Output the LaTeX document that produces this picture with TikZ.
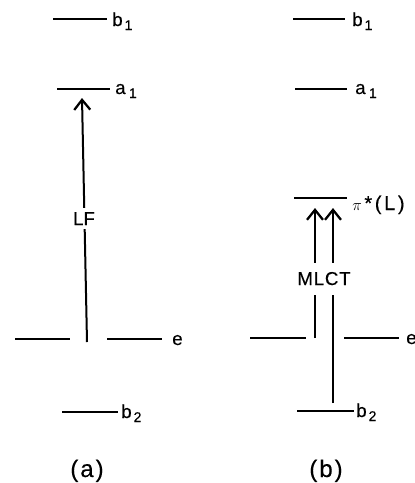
\documentclass[tikz,border=0pt]{standalone}
\usepackage{fontspec}
\setmainfont{Liberation Sans}[FakeBold=0.3]
\usetikzlibrary{arrows.meta}
\newcommand\lsub[1]{\kern1.5pt\raisebox{-3pt}{\fontsize{10.5}{12}\selectfont #1}}
\begin{document}
\begin{tikzpicture}[x=0.75pt,y=-0.75pt,
  level/.style={line width=1.7pt},
  trans/.style={line width=1.5pt,-{Straight Barb[length=7.5pt,width=12pt,line width=1.7pt]}},
  lbl/.style={anchor=base west,inner sep=0pt,font=\fontsize{14}{16}\selectfont},
  tlabel/.style={anchor=base,fill=white,inner xsep=2pt,font=\fontsize{14}{16}\selectfont},
  capt/.style={anchor=base,inner sep=0pt,font=\fontsize{18}{20}\selectfont}]
\useasboundingbox (0,0) rectangle (415,483);
% ---------- panel (a) ----------
\coordinate (aB1w) at (53,19);  \coordinate (aB1e) at (107,19);
\coordinate (aA1w) at (57,89);  \coordinate (aA1e) at (110,89);
\coordinate (aEw1) at (15,339); \coordinate (aEe1) at (70,339);
\coordinate (aEw2) at (107,339);\coordinate (aEe2) at (162,339);
\coordinate (aB2w) at (62,412); \coordinate (aB2e) at (118,412);
\draw[level] (aB1w) -- (aB1e);
\draw[level] (aA1w) -- (aA1e);
\draw[level] (aEw1) -- (aEe1);
\draw[level] (aEw2) -- (aEe2);
\draw[level] (aB2w) -- (aB2e);
\node[lbl] (aB1t) at (112,26) {b\lsub{1}};
\node[lbl] (aA1t) at (115,94) {a\kern1pt\lsub{1}};
\node[lbl] (aEt)  at (172,345) {e};
\node[lbl] (aB2t) at (121,418) {b\lsub{2}};
\coordinate (aLFlo) at (87,342);
\coordinate (aLFhi) at (82,98);
\draw[trans] (aLFlo) -- (aLFhi);
\node[tlabel,inner ysep=3pt] (aLF) at (84,225) {LF};
\node[capt] (acap) at (87,477) {(\kern1.5pt a\kern1.5pt)};
% ---------- panel (b) ----------
\coordinate (bB1w) at (293,19);  \coordinate (bB1e) at (345,19);
\coordinate (bA1w) at (295,89);  \coordinate (bA1e) at (347,89);
\coordinate (bPw)  at (294,198); \coordinate (bPe)  at (347,198);
\coordinate (bEw1) at (250,338); \coordinate (bEe1) at (306,338);
\coordinate (bEw2) at (344,338); \coordinate (bEe2) at (399,338);
\coordinate (bB2w) at (297,411); \coordinate (bB2e) at (354,411);
\draw[level] (bB1w) -- (bB1e);
\draw[level] (bA1w) -- (bA1e);
\draw[level] (bPw) -- (bPe);
\draw[level] (bEw1) -- (bEe1);
\draw[level] (bEw2) -- (bEe2);
\draw[level] (bB2w) -- (bB2e);
\node[lbl] (bB1t) at (352,26) {b\lsub{1}};
\node[lbl] (bA1t) at (355,94) {a\kern1pt\lsub{1}};
\node[lbl] (bPt)  at (352,210) {{\fontsize{12}{14}\selectfont$\pi$}\kern2pt{\fontsize{15}{17}\selectfont *\kern2pt(\kern2pt L\kern2pt)}};
\node[lbl] (bEt)  at (406,344) {e};
\node[lbl] (bB2t) at (356,417) {b\lsub{2}};
\coordinate (bT1lo) at (315,338); \coordinate (bT1hi) at (315,208);
\coordinate (bT2lo) at (333,403); \coordinate (bT2hi) at (333,208);
\draw[trans] (bT1lo) -- (bT1hi);
\draw[trans] (bT2lo) -- (bT2hi);
\node[tlabel,inner ysep=7pt] (bMLCT) at (324,285) {M\kern0.6pt L\kern0.6pt C\kern0.6pt T};
\node[capt] (bcap) at (326,477) {(\kern1.5pt b\kern1.5pt)};
\end{tikzpicture}
\end{document}
